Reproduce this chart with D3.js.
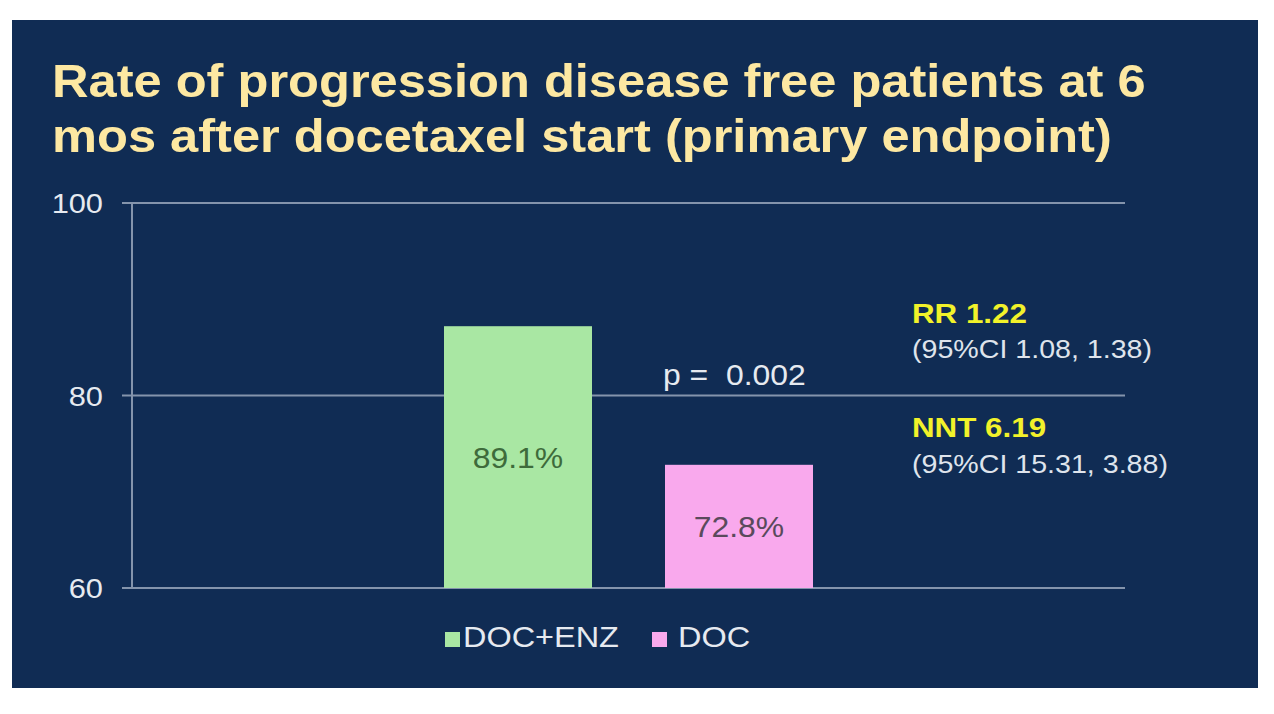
<!DOCTYPE html>
<html>
<head>
<meta charset="utf-8">
<script src="https://cdn.jsdelivr.net/npm/d3@7"></script>
<style>
  html, body { margin: 0; padding: 0; background: #ffffff; }
  svg { display: block; }
  text { font-family: "Liberation Sans", Arial, sans-serif; white-space: pre; }
</style>
</head>
<body>
<script>
// ---- data ----
const titleLines = ["Rate of progression disease free patients at 6", "mos after docetaxel start (primary endpoint)"];
const series = ["DOC+ENZ", "DOC"];
const values = [87.2, 72.8];          // bar heights as drawn in the picture
const valueLabels = ["89.1%", "72.8%"];
const colors = ["#a9e7a3", "#f9a9ed"];
const labelColors = ["#3e6b3b", "#5a4a5c"];
const yTicks = [60, 80, 100];
const pText = "p =  0.002";
const statHeads = ["RR 1.22", "NNT 6.19"];
const statCIs = ["(95%CI 1.08, 1.38)", "(95%CI 15.31, 3.88)"];

const W = 1274, H = 714, SX = 1.1;
const svg = d3.select("body").append("svg").attr("width", W).attr("height", H);

svg.append("rect").attr("x", 12).attr("y", 20).attr("width", 1246).attr("height", 668).attr("fill", "#102c54");

function txt(x, y, s, size, opts = {}) {
  return svg.append("text")
    .attr("transform", `translate(${x},${y}) scale(${SX},1)`)
    .attr("text-anchor", opts.anchor || "start")
    .attr("font-size", size)
    .attr("font-weight", opts.bold ? "bold" : "normal")
    .attr("fill", opts.fill || "#e6eaf0")
    .text(s);
}

// title
titleLines.forEach((t, i) => txt(52, 97 + i * 55, t, 46, { bold: true, fill: "#fde8a2" }));

// scales
const y = d3.scaleLinear().domain([60, 100]).range([588, 203]);
const x = d3.scaleBand().domain(series).range([132, 1125]).paddingInner(73 / 221).paddingOuter(1.4118);

// gridlines
const gridColor = "#8494ac";
svg.append("g").selectAll("line").data(yTicks).join("line")
  .attr("x1", 122).attr("x2", 1125)
  .attr("y1", d => y(d)).attr("y2", d => y(d))
  .attr("stroke", gridColor).attr("stroke-width", 2);
svg.append("line").attr("x1", 132).attr("x2", 132).attr("y1", y(100)).attr("y2", y(60))
  .attr("stroke", gridColor).attr("stroke-width", 2);

// tick labels
yTicks.forEach(t => txt(103, y(t) + 10, String(t), 28, { anchor: "end" }));

// bars
svg.append("g").selectAll("rect").data(values).join("rect")
  .attr("x", (d, i) => x(series[i]))
  .attr("width", x.bandwidth())
  .attr("y", d => y(d))
  .attr("height", d => y(60) - y(d))
  .attr("fill", (d, i) => colors[i]);

values.forEach((v, i) => {
  const cx = x(series[i]) + x.bandwidth() / 2;
  const cy = (y(v) + y(60)) / 2;
  txt(cx, cy + 11, valueLabels[i], 29, { anchor: "middle", fill: labelColors[i] });
});

// p value
txt(663, 385, pText, 29, { fill: "#e6eaf0" });

// stats
statHeads.forEach((s, i) => {
  txt(912, 323 + i * 114, s, 28.5, { bold: true, fill: "#f2f22a" });
  txt(912, 358 + i * 115, statCIs[i], 26, { fill: "#dfe4ec" });
});

// legend
const legX = [445, 652];
const legTX = [463, 678];
series.forEach((s, i) => {
  svg.append("rect").attr("x", legX[i]).attr("y", 632).attr("width", 15).attr("height", 15).attr("fill", colors[i]);
  txt(legTX[i], 647, s, 29.5, { fill: "#e6eaf0" });
});
</script>
</body>
</html>
